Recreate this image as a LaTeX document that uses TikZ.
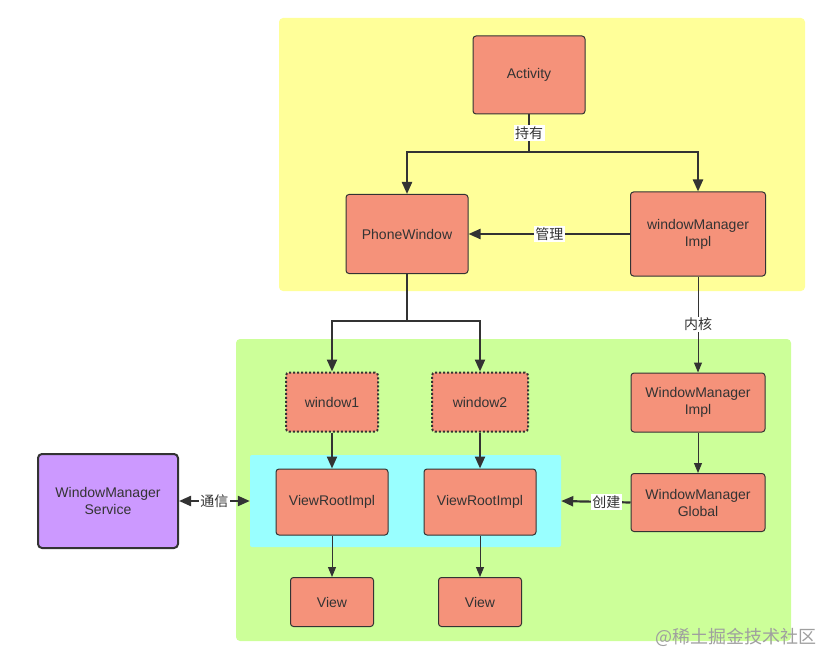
\documentclass[tikz,border=0pt]{standalone}
\usepackage{fontspec}
\setmainfont{Liberation Sans}
\newfontfamily\cjk{Noto Sans CJK SC}
\usepackage{xcolor}
\usetikzlibrary{shapes,arrows.meta,positioning}

\definecolor{salmon}{HTML}{F5927A}
\definecolor{yellowbg}{HTML}{FFFF99}
\definecolor{greenbg}{HTML}{CCFF99}
\definecolor{cyanbg}{HTML}{99FFFF}
\definecolor{purplebox}{HTML}{CC99FF}
\definecolor{line}{HTML}{333333}

\begin{document}
\begin{tikzpicture}[x=1pt,y=-1pt,node distance=100pt]

\tikzstyle{obj} = [rectangle, rounded corners=3pt, draw=line, line width=1pt, fill=salmon, text=line, align=center, font=\fontsize{14}{17}\selectfont]
\tikzstyle{ghost} = [obj, dash pattern=on 2pt off 2pt, line width=2pt]
\tikzstyle{region} = [rectangle, rounded corners=4pt, inner sep=0pt]
\tikzstyle{lbl} = [fill=white, inner sep=1.5pt, text=line, font=\cjk\fontsize{14}{17}\selectfont]
\tikzstyle{arrow} = [line width=2.2pt, draw=line, ->, >={Triangle[length=12pt,width=10pt]}]
\tikzstyle{thin arrow} = [line width=1pt, draw=line, ->, >={Triangle[length=10pt,width=8pt]}]

\useasboundingbox (0,0) rectangle (840,668);

% background areas
\node (apparea) [region, fill=yellowbg, minimum width=526pt, minimum height=273pt] at (542,154.5) {};
\node (winarea) [region, fill=greenbg, minimum width=555pt, minimum height=302pt] at (513.5,490) {};
\node (vrigroup) [region, fill=cyanbg, rounded corners=2pt, minimum width=311pt, minimum height=92pt] at (405.5,501) {};

% boxes
\node (activity) [obj, minimum width=112pt, minimum height=78pt] at (529,75) {Activity};
\node (phonewin) [obj, minimum width=122pt, minimum height=79pt] at (407,234) {PhoneWindow};
\node (wmimpl) [obj, minimum width=135pt, minimum height=84pt] at (698,234) {windowManager\\Impl};
\node (win1) [ghost, minimum width=92pt, minimum height=59pt] at (332,402) {window1};
\node (win2) [ghost, minimum width=96pt, minimum height=59pt] at (480,402) {window2};
\node (vri1) [obj, below of=win1, minimum width=112pt, minimum height=66pt] {ViewRootImpl};
\node (vri2) [obj, below of=win2, minimum width=112pt, minimum height=66pt] {ViewRootImpl};
\node (view1) [obj, below of=vri1, minimum width=83pt, minimum height=49pt] {View};
\node (view2) [obj, below of=vri2, minimum width=83pt, minimum height=49pt] {View};
\node (wmimpl2) [obj, minimum width=134pt, minimum height=59pt] at (698,402.5) {WindowManager\\Impl};
\node (wmglobal) [obj, below of=wmimpl2, minimum width=134pt, minimum height=58pt] {WindowManager\\Global};
\node (wms) [obj, fill=purplebox, rounded corners=4pt, line width=2pt, minimum width=140pt, minimum height=94pt] at (108,501) {WindowManager\\Service};

\coordinate (split1) at (529,152);
\coordinate (split2) at (407,321);

% connectors
\draw [line width=2.2pt, draw=line] (activity) -- node[lbl] {持有} (split1);
\draw [arrow] (split1) -| (phonewin);
\draw [arrow] (split1) -| (wmimpl);
\draw [arrow] (wmimpl) -- node[lbl] {管理} (phonewin);
\draw [line width=2.2pt, draw=line] (phonewin) -- (split2);
\draw [arrow] (split2) -| (win1);
\draw [arrow] (split2) -| (win2);
\draw [arrow] (win1) -- (vri1);
\draw [arrow] (win2) -- (vri2);
\draw [thin arrow] (vri1) -- (view1);
\draw [thin arrow] (vri2) -- (view2);
\draw [thin arrow] (wmimpl) -- node[lbl] {内核} (wmimpl2);
\draw [thin arrow] (wmimpl2) -- (wmglobal);
\draw [arrow] (wmglobal.west) -- node[lbl, pos=0.35] {创建} (vrigroup.east);
\draw [arrow, <->] (wms) -- node[lbl] {通信} (vrigroup);

\node (mark) [text=gray!75, font=\cjk\fontsize{18}{21}\selectfont] at (736,637) {@稀土掘金技术社区};

\end{tikzpicture}
\end{document}
